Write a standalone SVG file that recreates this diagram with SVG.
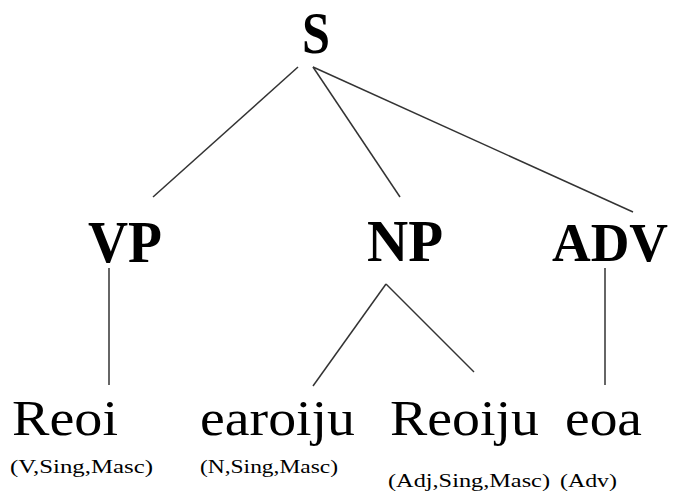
<svg xmlns="http://www.w3.org/2000/svg" width="675" height="493" viewBox="0 0 675 493">
<style>
.cat{font-family:"Liberation Serif","DejaVu Serif",serif;font-weight:bold;font-size:60px;fill:#000}
.word{font-family:"Liberation Serif","DejaVu Serif",serif;font-weight:normal;font-size:50px;fill:#000}
.feat{font-family:"Liberation Serif","DejaVu Serif",serif;font-size:19px;fill:#000}
.edge{stroke:#333;stroke-width:1.5;fill:none}
</style>
<rect width="675" height="493" fill="#fff"/>
<g id="connectors">
<line class="edge" x1="298" y1="67" x2="153" y2="197"/>
<line class="edge" x1="313" y1="67" x2="400" y2="197"/>
<line class="edge" x1="313" y1="67" x2="633" y2="212"/>
<line class="edge" x1="109" y1="268" x2="109" y2="385"/>
<line class="edge" x1="386" y1="284" x2="313" y2="386"/>
<line class="edge" x1="386" y1="284" x2="474" y2="372"/>
<line class="edge" x1="605" y1="268" x2="605" y2="385"/>
</g>
<g id="S"><text class="cat" x="302" y="53" textLength="28" lengthAdjust="spacingAndGlyphs">S</text></g>
<g id="VP"><text class="cat" x="88" y="262" textLength="74" lengthAdjust="spacingAndGlyphs">VP</text></g>
<g id="NP"><text class="cat" x="367" y="261" textLength="76" lengthAdjust="spacingAndGlyphs">NP</text></g>
<g id="ADV"><text class="cat" x="552" y="261" style="font-size:55px" textLength="116" lengthAdjust="spacingAndGlyphs">ADV</text></g>
<g id="Reoi">
<text class="word" x="12" y="435" textLength="106" lengthAdjust="spacingAndGlyphs">Reoi</text>
<text class="feat" x="10" y="473" textLength="143" lengthAdjust="spacingAndGlyphs">(V,Sing,Masc)</text>
</g>
<g id="earoiju">
<text class="word" x="200" y="435" textLength="155" lengthAdjust="spacingAndGlyphs">earoiju</text>
<text class="feat" x="200" y="473" textLength="138" lengthAdjust="spacingAndGlyphs">(N,Sing,Masc)</text>
</g>
<g id="Reoiju">
<text class="word" x="390" y="435" textLength="149" lengthAdjust="spacingAndGlyphs">Reoiju</text>
<text class="feat" x="388" y="487" textLength="162" lengthAdjust="spacingAndGlyphs">(Adj,Sing,Masc)</text>
</g>
<g id="eoa">
<text class="word" x="565" y="435" textLength="77" lengthAdjust="spacingAndGlyphs">eoa</text>
<text class="feat" x="560" y="487" textLength="57" lengthAdjust="spacingAndGlyphs">(Adv)</text>
</g>
</svg>
